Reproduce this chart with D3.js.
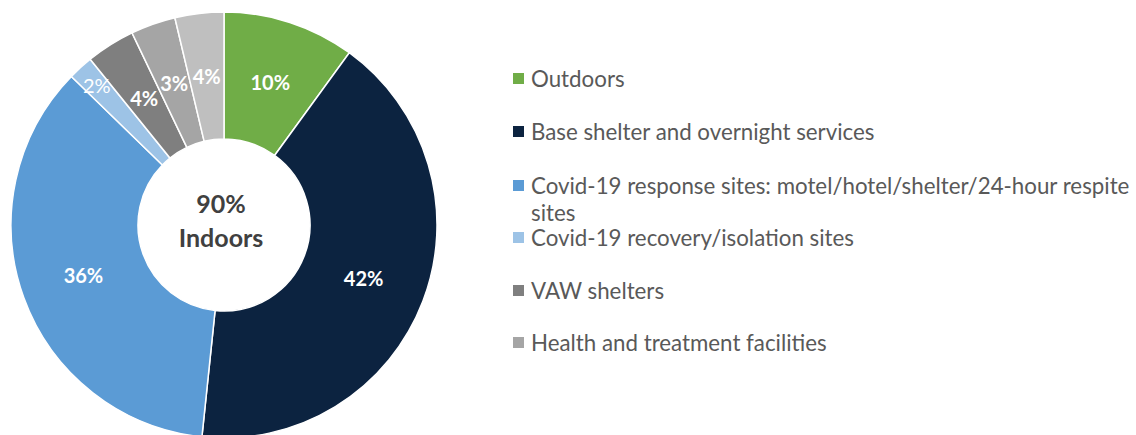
<!DOCTYPE html>
<html>
<head>
<meta charset="utf-8">
<script src="https://cdn.jsdelivr.net/npm/d3@7"></script>
<style>
  html, body { margin: 0; padding: 0; background: #fff; }
  svg { display: block; }
</style>
</head>
<body>
<svg id="chart" width="1136" height="435"></svg>
<script>
const categories = [
  "Outdoors",
  "Base shelter and overnight services",
  "Covid-19 response sites: motel/hotel/shelter/24-hour respite sites",
  "Covid-19 recovery/isolation sites",
  "VAW shelters",
  "Health and treatment facilities",
  "Other"
];
const values = [10.0, 41.6, 35.6, 1.9, 3.7, 3.4, 3.7];
const valueLabels = ["10%", "42%", "36%", "2%", "4%", "3%", "4%"];
const colors = ["#70AD47", "#0C2340", "#5B9BD5", "#9DC3E6", "#7F7F7F", "#A5A5A5", "#BFBFBF"];
const legendCount = 6;
const centerLines = ["90%", "Indoors"];

const FONT = "Lato, 'Open Sans', sans-serif";
const svg = d3.select("#chart");

const cx = 224, cy = 225, outerR = 213, innerR = 86;
const g = svg.append("g").attr("transform", `translate(${cx},${cy})`);

const pie = d3.pie().sort(null).value(d => d.v);
const data = categories.map((c, i) => ({ name: c, v: values[i], label: valueLabels[i], color: colors[i] }));
const arcs = pie(data);

const arc = d3.arc().innerRadius(innerR).outerRadius(outerR);
g.selectAll("path.slice").data(arcs).join("path")
  .attr("class", "slice")
  .attr("d", arc)
  .attr("fill", d => d.data.color)
  .attr("stroke", "#fff")
  .attr("stroke-width", 1.5);

const midR = (innerR + outerR) / 2;
const labelArc = d3.arc().innerRadius(midR).outerRadius(midR);
const outerLabelArc = d3.arc().innerRadius(189).outerRadius(189);

g.selectAll("text.val").data(arcs).join("text")
  .attr("class", "val")
  .attr("transform", d => {
    const small = d.data.v < 2.5;
    const p = (small ? outerLabelArc : labelArc).centroid(d);
    return `translate(${p[0]},${p[1]})`;
  })
  .attr("text-anchor", "middle")
  .attr("dy", "0.36em")
  .attr("fill", "#fff")
  .style("font-family", FONT)
  .style("font-size", "20px")
  .style("font-weight", d => d.data.v < 2.5 ? 400 : 700)
  .text(d => d.data.label);

// center text
g.append("text")
  .attr("text-anchor", "middle")
  .attr("fill", "#404040")
  .style("font-family", FONT)
  .style("font-size", "25px")
  .style("font-weight", 700)
  .selectAll("tspan").data(centerLines).join("tspan")
  .attr("x", -3)
  .attr("y", (d, i) => i === 0 ? -12 : 22)
  .text(d => d);

// legend
const legend = svg.append("g").attr("transform", "translate(513,0)");
const legendData = data.slice(0, legendCount);
const rowY = [79, 132, 186, 238, 291, 343];
const maxW = 615;
legendData.forEach((d, i) => {
  const row = legend.append("g").attr("transform", `translate(0,${rowY[i]})`);
  row.append("rect").attr("x", 0).attr("y", -6).attr("width", 11).attr("height", 11).attr("fill", d.color);
  const t = row.append("text")
    .attr("fill", "#595959")
    .style("font-family", FONT)
    .style("font-size", "22.3px");
  // wrap words
  const words = d.name.split(" ");
  let line = [];
  let lineNo = 0;
  let tspan = t.append("tspan").attr("x", 18).attr("y", 0).attr("dy", "0.35em");
  words.forEach(w => {
    line.push(w);
    tspan.text(line.join(" "));
    if (tspan.node().getComputedTextLength() > maxW && line.length > 1) {
      line.pop();
      tspan.text(line.join(" "));
      line = [w];
      lineNo++;
      tspan = t.append("tspan").attr("x", 18).attr("y", lineNo * 27).attr("dy", "0.35em").text(w);
    }
  });
});
</script>
</body>
</html>
